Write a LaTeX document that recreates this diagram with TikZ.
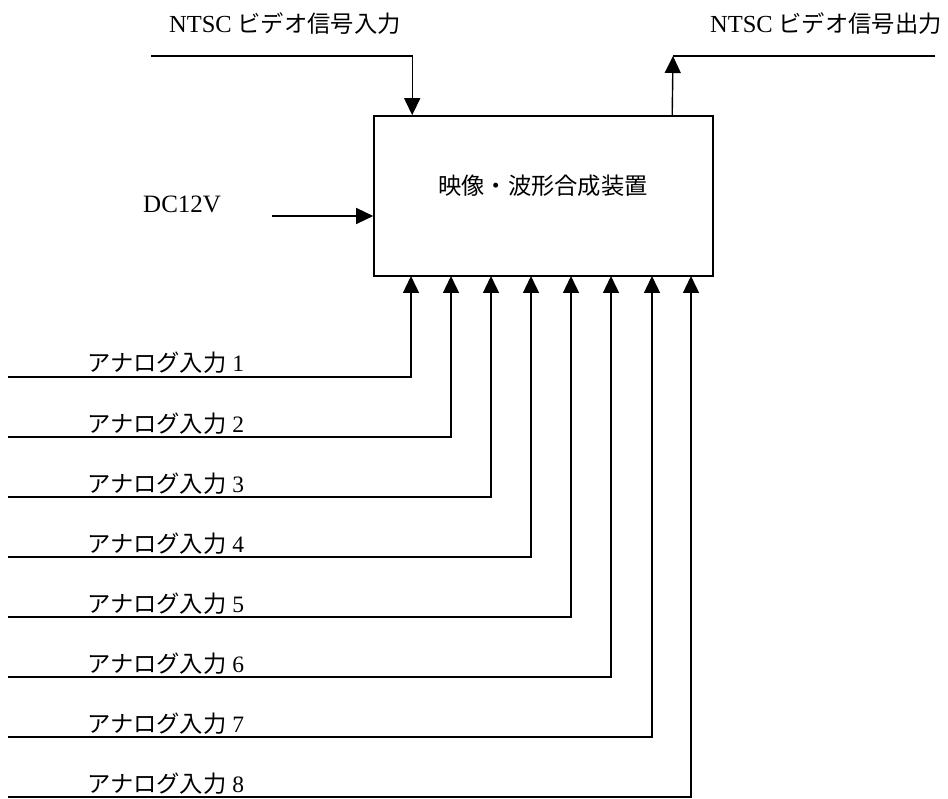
\documentclass[tikz,border=0pt]{standalone}
\usepackage{fontspec}
\setmainfont{Liberation Serif}
\newfontfamily\jp{Noto Sans CJK JP}
\usetikzlibrary{arrows.meta,calc}
\tikzset{
  arr/.style={line width=1.4pt, -{Triangle[length=17pt,width=16pt]}},
  plain/.style={line width=1.4pt},
  boxst/.style={draw, line width=1.6pt, minimum width=339pt, minimum height=160pt, inner sep=0pt},
  lat/.style={font=\fontsize{25}{28}\selectfont, inner sep=0pt, anchor=base west},
  jlab/.style={font=\fontsize{23.3}{28}\selectfont, inner sep=0pt, anchor=base west},
}
\begin{document}
\begin{tikzpicture}[x=1pt,y=-1pt]
\useasboundingbox (0,0) rectangle (948,799);
\node[boxst] (box) at (543.5,196) {};
\node[jlab, anchor=center] (boxtxt) at (543,186) {\jp 映像・波形合成装置};
% top labels
\node[jlab] (ntscin) at (169,33) {{\fontsize{24.5}{28}\selectfont NTSC} {\jp ビデオ信号入力}};
\node[jlab] (ntscout) at (710,33) {{\fontsize{24.5}{28}\selectfont NTSC} {\jp ビデオ信号出力}};
\node[lat] (dc) at (143,213) {DC12V};
% NTSC in
\coordinate (inS) at (151,56);
\draw[arr] (inS) -| ($(box.north west)+(39,0)$);
% NTSC out
\coordinate (outE) at (935,56);
\draw[plain] (outE) -- (673,56);
\draw[arr] ($(box.north west)+(299,0)$) -- (673,56);
% DC
\coordinate (dcS) at (272,216);
\draw[arr] (dcS) -- (dcS -| box.west);
% analog inputs
\foreach \i/\xx in {1/411,2/451,3/491,4/531,5/571,6/611,7/652,8/691}{
  \coordinate (a\i) at (8,{377+60*(\i-1)});
  \coordinate (t\i) at (\xx,276);
  \draw[arr] (a\i) -| (t\i);
  \node[jlab] (lab\i) at (87,{372+60*(\i-1)}) {{\jp アナログ入力} {\fontsize{23.5}{28}\selectfont\i}};
}
\end{tikzpicture}
\end{document}
